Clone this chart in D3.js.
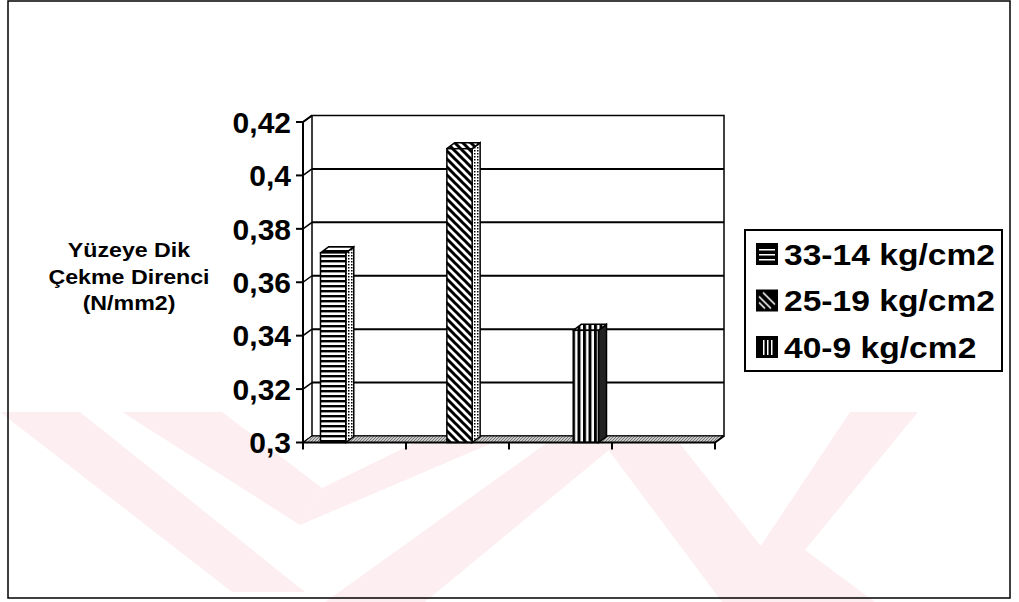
<!DOCTYPE html>
<html>
<head>
<meta charset="utf-8">
<script src="https://cdn.jsdelivr.net/npm/d3@7"></script>
<style>
  body { margin: 0; background: #fff; }
  text { font-family: "Liberation Sans", Arial, sans-serif; font-weight: bold; fill: #000; }
</style>
</head>
<body>
<div id="chart"></div>
<script>
// chart values
const seriesNames = ["33-14 kg/cm2", "25-19 kg/cm2", "40-9 kg/cm2"];
const seriesValues = [0.371, 0.41, 0.342];
const seriesPatterns = ["p-horiz", "p-diag", "p-vert"];
const yTicks = [0.3, 0.32, 0.34, 0.36, 0.38, 0.4, 0.42];
const yTickLabels = ["0,3", "0,32", "0,34", "0,36", "0,38", "0,4", "0,42"];
const xCategoryTicks = [0, 1, 2, 3, 4];
const axisTitleLines = ["Yüzeye Dik", "Çekme Direnci", "(N/mm2)"];

const width = 1019, height = 602;
const depth = {dx: 9, dy: -6.5};     // wall depth
const barDepth = {dx: 8, dy: -6};    // column depth

const svg = d3.select("#chart").append("svg")
    .attr("width", width)
    .attr("height", height);

// patterns
const defs = svg.append("defs");
const horiz = defs.append("pattern").attr("id", "p-horiz")
    .attr("patternUnits", "userSpaceOnUse").attr("width", 5).attr("height", 5);
horiz.append("rect").attr("width", 5).attr("height", 5).attr("fill", "#fff");
horiz.append("rect").attr("width", 5).attr("height", 2.4).attr("fill", "#000");

const diag = defs.append("pattern").attr("id", "p-diag")
    .attr("patternUnits", "userSpaceOnUse").attr("width", 8).attr("height", 8);
diag.append("rect").attr("width", 8).attr("height", 8).attr("fill", "#fff");
diag.append("path").attr("d", "M-2,-2L10,10M-2,6L2,10M6,-2L10,2")
    .attr("stroke", "#000").attr("stroke-width", 3);

const vert = defs.append("pattern").attr("id", "p-vert")
    .attr("patternUnits", "userSpaceOnUse").attr("width", 5.5).attr("height", 6);
vert.append("rect").attr("width", 5.5).attr("height", 6).attr("fill", "#fff");
vert.append("rect").attr("width", 3).attr("height", 6).attr("fill", "#000");

const dots = defs.append("pattern").attr("id", "p-dots")
    .attr("patternUnits", "userSpaceOnUse").attr("width", 3).attr("height", 3);
dots.append("rect").attr("width", 3).attr("height", 3).attr("fill", "#fff");
dots.append("rect").attr("width", 1.5).attr("height", 1.5).attr("fill", "#000");

const floorPat = defs.append("pattern").attr("id", "p-floor")
    .attr("patternUnits", "userSpaceOnUse").attr("width", 3).attr("height", 3);
floorPat.append("rect").attr("width", 3).attr("height", 3).attr("fill", "#c8c8c8");
floorPat.append("path").attr("d", "M0,3L3,0").attr("stroke", "#777").attr("stroke-width", 1);

// faint watermark in the lower half
const watermark = [
    [[0, 412], [80, 412], [305, 592], [232, 592]],
    [[122, 412], [222, 412], [322, 488], [300, 525]],
    [[300, 525], [322, 488], [478, 412], [565, 412]],
    [[325, 602], [425, 602], [655, 412], [590, 412]],
    [[580, 412], [655, 412], [805, 602], [722, 602]],
    [[758, 550], [805, 550], [918, 412], [850, 412]],
    [[758, 550], [805, 550], [875, 602], [800, 602]]
];
svg.append("g").selectAll("polygon")
    .data(watermark)
    .join("polygon")
    .attr("points", d => d.map(p => p.join(",")).join(" "))
    .attr("fill", "#fdeef1");

// outer frame
svg.append("rect")
    .attr("x", 8).attr("y", 1)
    .attr("width", 1002).attr("height", 597)
    .attr("fill", "none").attr("stroke", "#000").attr("stroke-width", 1.5);

// scales
const y = d3.scaleLinear().domain([0.3, 0.42]).range([442.5, 122]);
const xCat = d3.scaleLinear().domain([0, 4]).range([303, 715]);
const xBand = d3.scaleBand().domain(seriesNames)
    .range([320.5, 598.5]).paddingInner(0.8).paddingOuter(0);

const x0 = xCat(0), x1 = xCat(4);
const yTop = y(0.42), yBase = y(0.3);

const plot = svg.append("g");

// back wall
plot.append("rect")
    .attr("x", x0 + depth.dx).attr("y", yTop + depth.dy)
    .attr("width", x1 - x0).attr("height", yBase - yTop)
    .attr("fill", "#fff").attr("stroke", "#000").attr("stroke-width", 1.5);

// gridlines on back wall and side wall
plot.selectAll(".grid")
    .data(yTicks.filter(t => t > 0.3 && t < 0.42))
    .join("line")
    .attr("class", "grid")
    .attr("x1", x0 + depth.dx).attr("x2", x1 + depth.dx)
    .attr("y1", d => y(d) + depth.dy).attr("y2", d => y(d) + depth.dy)
    .attr("stroke", "#000").attr("stroke-width", 2);

plot.selectAll(".sidegrid")
    .data(yTicks)
    .join("line")
    .attr("class", "sidegrid")
    .attr("x1", x0).attr("x2", x0 + depth.dx)
    .attr("y1", d => y(d)).attr("y2", d => y(d) + depth.dy)
    .attr("stroke", "#000").attr("stroke-width", 1.5);

// floor
plot.append("polygon")
    .attr("points", [
        [x0, yBase], [x1, yBase],
        [x1 + depth.dx, yBase + depth.dy], [x0 + depth.dx, yBase + depth.dy]
    ].map(p => p.join(",")).join(" "))
    .attr("fill", "url(#p-floor)").attr("stroke", "#000").attr("stroke-width", 1);

// columns
const bars = plot.selectAll(".bar")
    .data(seriesNames.map((name, i) => ({name, value: seriesValues[i], pat: seriesPatterns[i]})))
    .join("g").attr("class", "bar");

bars.append("polygon") // side
    .attr("points", d => {
        const bx = xBand(d.name) + xBand.bandwidth();
        const top = y(d.value);
        return [[bx, top], [bx + barDepth.dx, top + barDepth.dy],
                [bx + barDepth.dx, yBase + barDepth.dy], [bx, yBase]]
            .map(p => p.join(",")).join(" ");
    })
    .attr("fill", (d, i) => i === 2 ? "#222" : "url(#p-dots)")
    .attr("stroke", "#000").attr("stroke-width", 1.5);

bars.append("polygon") // top
    .attr("points", d => {
        const bx = xBand(d.name), bw = xBand.bandwidth();
        const top = y(d.value);
        return [[bx, top], [bx + bw, top],
                [bx + bw + barDepth.dx, top + barDepth.dy], [bx + barDepth.dx, top + barDepth.dy]]
            .map(p => p.join(",")).join(" ");
    })
    .attr("fill", d => `url(#${d.pat})`)
    .attr("stroke", "#000").attr("stroke-width", 1.5)
    .attr("stroke-linejoin", "round");

bars.append("rect") // front
    .attr("x", d => xBand(d.name))
    .attr("y", d => y(d.value))
    .attr("width", xBand.bandwidth())
    .attr("height", d => yBase - y(d.value))
    .attr("fill", d => `url(#${d.pat})`)
    .attr("stroke", "#000").attr("stroke-width", 1.5);

// front axes
plot.append("path")
    .attr("d", `M${x0 + depth.dx},${yTop + depth.dy}L${x0},${yTop}L${x0},${yBase}L${x1},${yBase}L${x1 + depth.dx},${yBase + depth.dy}`)
    .attr("fill", "none").attr("stroke", "#000").attr("stroke-width", 2);

plot.selectAll(".ytick")
    .data(yTicks)
    .join("line")
    .attr("class", "ytick")
    .attr("x1", x0 - 7).attr("x2", x0)
    .attr("y1", d => y(d)).attr("y2", d => y(d))
    .attr("stroke", "#000").attr("stroke-width", 2);

plot.selectAll(".xtick")
    .data(xCategoryTicks)
    .join("line")
    .attr("class", "xtick")
    .attr("x1", d => xCat(d)).attr("x2", d => xCat(d))
    .attr("y1", yBase).attr("y2", yBase + 7)
    .attr("stroke", "#000").attr("stroke-width", 2);

plot.selectAll(".ylabel")
    .data(yTicks)
    .join("text")
    .attr("class", "ylabel")
    .attr("x", 291)
    .attr("y", d => y(d))
    .attr("dy", "0.36em")
    .attr("text-anchor", "end")
    .style("font-size", "30px")
    .text((d, i) => yTickLabels[i]);

// axis title
svg.append("g").selectAll("text")
    .data(axisTitleLines)
    .join("text")
    .attr("transform", (d, i) => `translate(129,${257 + i * 26.5}) scale(1.16,1)`)
    .attr("text-anchor", "middle")
    .style("font-size", "20px")
    .text(d => d);

// legend
const legend = svg.append("g").attr("transform", "translate(745,230)");
legend.append("rect")
    .attr("width", 257).attr("height", 141)
    .attr("fill", "#fff").attr("stroke", "#000").attr("stroke-width", 2);

const legendFill = ["p-leg-h", "p-leg-d", "p-leg-v"];
const lh = defs.append("pattern").attr("id", "p-leg-h")
    .attr("patternUnits", "objectBoundingBox").attr("width", 1).attr("height", 1);
lh.append("rect").attr("width", 22).attr("height", 22).attr("fill", "#000");
[6, 11, 16].forEach(v => lh.append("rect").attr("x", 3).attr("y", v).attr("width", 16).attr("height", 1.5).attr("fill", "#fff"));
const ld = defs.append("pattern").attr("id", "p-leg-d")
    .attr("patternUnits", "objectBoundingBox").attr("width", 1).attr("height", 1);
ld.append("rect").attr("width", 22).attr("height", 22).attr("fill", "#000");
ld.append("path").attr("d", "M3,7L15,19M7,3L19,15M3,13L9,19")
    .attr("stroke", "#fff").attr("stroke-width", 1.6);
const lv = defs.append("pattern").attr("id", "p-leg-v")
    .attr("patternUnits", "objectBoundingBox").attr("width", 1).attr("height", 1);
lv.append("rect").attr("width", 22).attr("height", 22).attr("fill", "#000");
[7, 11, 15].forEach(v => lv.append("rect").attr("x", v).attr("y", 4).attr("width", 1.5).attr("height", 15).attr("fill", "#fff"));

const rows = legend.selectAll(".row")
    .data(seriesNames)
    .join("g")
    .attr("class", "row")
    .attr("transform", (d, i) => `translate(0,${24 + i * 46.5})`);

rows.append("rect")
    .attr("x", 11).attr("y", -11)
    .attr("width", 22).attr("height", 22)
    .attr("fill", (d, i) => `url(#${legendFill[i]})`);

rows.append("text")
    .attr("transform", "translate(39,10.5) scale(1.12,1)")
    .style("font-size", "30px")
    .text(d => d);
</script>
</body>
</html>
